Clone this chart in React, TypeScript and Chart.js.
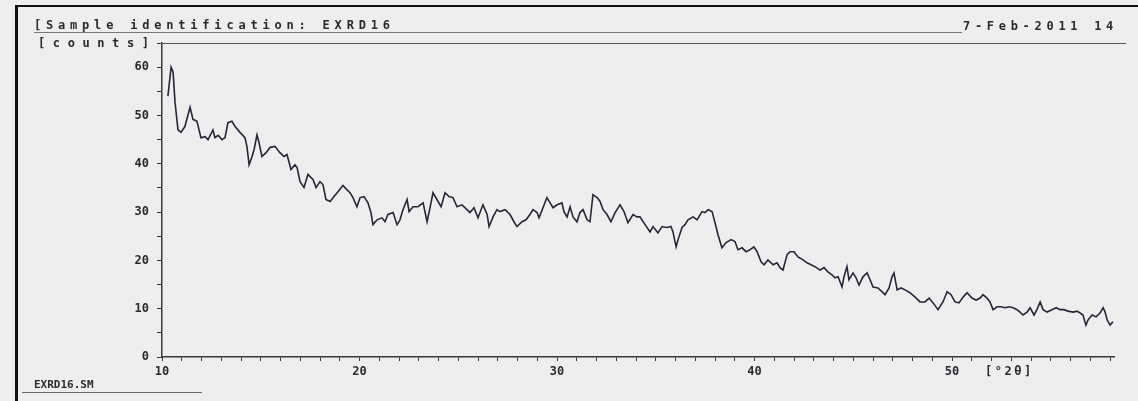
import React, { useEffect, useRef } from "react";
import { Chart, registerables } from "chart.js";

Chart.register(...registerables);

// 2θ positions (degrees)
const twoTheta = [
  10.30, 10.46, 10.56, 10.66, 10.81, 10.96, 11.16, 11.42, 11.57, 11.77, 11.97, 12.18, 12.33, 12.58, 12.68,
  12.84, 13.04, 13.19, 13.34, 13.54, 13.70, 13.95, 14.20, 14.30, 14.41, 14.56, 14.66, 14.81, 14.91, 15.06,
  15.27, 15.47, 15.72, 15.97, 16.18, 16.33, 16.53, 16.73, 16.84, 16.99, 17.19, 17.39, 17.65, 17.80, 18.00,
  18.15, 18.30, 18.51, 18.71, 18.91, 19.16, 19.37, 19.52, 19.67, 19.87, 20.03, 20.23, 20.43, 20.58, 20.68,
  20.89, 21.14, 21.29, 21.44, 21.70, 21.90, 22.05, 22.20, 22.41, 22.51, 22.71, 22.96, 23.22, 23.42, 23.62,
  23.72, 23.92, 24.13, 24.33, 24.53, 24.73, 24.94, 25.19, 25.44, 25.59, 25.80, 26.00, 26.25, 26.46, 26.56,
  26.76, 26.96, 27.11, 27.37, 27.62, 27.82, 27.97, 28.23, 28.43, 28.63, 28.78, 28.99, 29.09, 29.29, 29.49,
  29.65, 29.80, 30.00, 30.25, 30.35, 30.51, 30.66, 30.81, 31.01, 31.16, 31.32, 31.52, 31.67, 31.82, 32.03,
  32.18, 32.33, 32.53, 32.73, 32.94, 33.19, 33.39, 33.59, 33.85, 34.05, 34.20, 34.46, 34.71, 34.86, 35.11,
  35.32, 35.57, 35.77, 35.87, 36.03, 36.13, 36.33, 36.48, 36.63, 36.89, 37.09, 37.34, 37.49, 37.65, 37.85,
  38.00, 38.15, 38.35, 38.56, 38.81, 39.01, 39.16, 39.37, 39.57, 39.77, 39.97, 40.13, 40.33, 40.48, 40.68,
  40.94, 41.14, 41.29, 41.44, 41.65, 41.80, 42.00, 42.20, 42.46, 42.66, 42.86, 43.06, 43.32, 43.52, 43.72,
  43.92, 44.08, 44.23, 44.43, 44.53, 44.68, 44.78, 44.99, 45.14, 45.29, 45.49, 45.70, 45.85, 46.00, 46.25,
  46.61, 46.81, 46.96, 47.06, 47.22, 47.42, 47.62, 47.87, 48.13, 48.38, 48.63, 48.84, 49.04, 49.29, 49.54,
  49.75, 49.95, 50.15, 50.35, 50.56, 50.76, 51.01, 51.22, 51.42, 51.57, 51.77, 51.92, 52.08, 52.28, 52.48,
  52.68, 52.89, 53.09, 53.29, 53.44, 53.59, 53.80, 53.95, 54.15, 54.30, 54.46, 54.61, 54.81, 55.06, 55.27,
  55.47, 55.67, 55.87, 56.13, 56.33, 56.48, 56.63, 56.78, 56.89, 57.09, 57.29, 57.49, 57.65, 57.75, 57.85,
  58.00, 58.15,
];

// intensity (counts) at each 2θ position
const counts = [
  54.0, 60.0, 59.0, 52.7, 47.0, 46.5, 47.7, 51.7, 49.2, 48.8, 45.4, 45.6, 45.0, 47.0, 45.4,
  45.9, 45.0, 45.4, 48.5, 48.8, 47.7, 46.5, 45.4, 43.6, 39.8, 41.5, 42.9, 46.0, 44.4, 41.5,
  42.3, 43.4, 43.6, 42.3, 41.5, 41.9, 38.8, 39.8, 39.2, 36.3, 35.1, 37.8, 36.7, 35.1, 36.3,
  35.7, 32.6, 32.2, 33.2, 34.2, 35.5, 34.6, 34.0, 33.0, 31.1, 33.0, 33.2, 31.9, 29.9, 27.4,
  28.4, 28.8, 28.0, 29.5, 29.9, 27.4, 28.4, 30.5, 32.6, 30.1, 31.1, 31.1, 31.9, 28.0, 31.9,
  34.0, 32.6, 31.1, 34.0, 33.2, 33.0, 31.1, 31.5, 30.5, 29.9, 30.9, 28.8, 31.5, 29.5, 27.0,
  29.0, 30.5, 30.1, 30.5, 29.5, 28.0, 27.0, 28.0, 28.4, 29.5, 30.5, 29.9, 28.8, 30.9, 33.0,
  31.9, 30.9, 31.5, 31.9, 30.1, 29.0, 31.1, 29.0, 28.0, 29.9, 30.5, 28.4, 28.0, 33.6, 33.0,
  32.2, 30.5, 29.5, 28.0, 29.9, 31.5, 30.1, 27.8, 29.5, 29.0, 29.0, 27.4, 25.9, 27.0, 25.7,
  27.0, 26.8, 27.0, 25.9, 22.8, 24.3, 26.8, 27.4, 28.4, 29.0, 28.4, 30.1, 29.9, 30.5, 30.1,
  27.8, 25.3, 22.6, 23.7, 24.3, 23.9, 22.2, 22.6, 21.8, 22.2, 22.8, 21.8, 19.7, 19.1, 20.1,
  19.1, 19.5, 18.5, 18.0, 21.2, 21.8, 21.8, 20.7, 20.1, 19.5, 19.1, 18.7, 18.0, 18.5, 17.6,
  17.0, 16.4, 16.6, 14.5, 16.6, 18.7, 16.0, 17.4, 16.4, 14.9, 16.6, 17.4, 16.0, 14.5, 14.3,
  12.9, 14.3, 16.6, 17.4, 13.9, 14.3, 13.9, 13.3, 12.4, 11.4, 11.4, 12.2, 11.2, 9.8, 11.4,
  13.5, 12.9, 11.4, 11.2, 12.4, 13.3, 12.2, 11.8, 12.2, 12.9, 12.2, 11.4, 9.8, 10.4, 10.4,
  10.2, 10.4, 10.2, 9.8, 9.3, 8.7, 9.3, 10.2, 8.7, 9.8, 11.4, 9.8, 9.3, 9.8, 10.2,
  9.8, 9.8, 9.5, 9.3, 9.5, 9.1, 8.7, 6.6, 7.7, 8.7, 8.3, 9.1, 10.2, 9.3, 7.7,
  6.6, 7.3,
];

const xMajorTicks = [10, 20, 30, 40, 50];
const yMajorTicks = [0, 10, 20, 30, 40, 50, 60];
const xRange = [10, 58.2];
const yRange = [0, 65];

const titleText = "[Sample identification: EXRD16";
const dateText = "7-Feb-2011 14";
const yUnitText = "[counts]";
const xUnitText = "[°2θ]";
const fileText = "EXRD16.SM";

const FONT = '"DejaVu Sans Mono", "Liberation Mono", monospace';
const INK = "#2a2a30";

export default function App() {
  const ref = useRef<HTMLCanvasElement>(null);

  useEffect(() => {
    const points = twoTheta.map((x, i) => ({ x, y: counts[i] }));
    const chart = new Chart(ref.current as HTMLCanvasElement, {
      type: "line",
      data: {
        datasets: [
          {
            data: points,
            borderColor: "#26263a",
            borderWidth: 1.6,
            pointRadius: 0,
            tension: 0,
            fill: false,
          },
        ],
      },
      options: {
        animation: false,
        responsive: false,
        devicePixelRatio: 1,
        layout: { padding: { left: 0, top: 43, right: 24, bottom: 0 } },
        plugins: { legend: { display: false }, tooltip: { enabled: false }, title: { display: false } },
        scales: {
          x: {
            type: "linear",
            min: xRange[0],
            max: xRange[1],
            afterFit: (s: any) => {
              s.height = 44;
            },
            border: { display: true, color: "#3a3a3a", width: 1.5 },
            grid: { drawOnChartArea: false, drawTicks: true, tickLength: 4, color: "#3a3a3a" },
            ticks: {
              stepSize: 1,
              autoSkip: false,
              includeBounds: false,
              maxRotation: 0,
              padding: 4,
              color: INK,
              font: { family: FONT, size: 12, weight: "bold" },
              callback: (v: any) => (xMajorTicks.includes(Number(v)) ? String(v) : ""),
            },
          },
          y: {
            type: "linear",
            min: yRange[0],
            max: yRange[1],
            afterFit: (s: any) => {
              s.width = 162;
            },
            border: { display: true, color: "#3a3a3a", width: 1.5 },
            grid: { drawOnChartArea: false, drawTicks: true, tickLength: 5, color: "#3a3a3a" },
            ticks: {
              stepSize: 5,
              autoSkip: false,
              includeBounds: false,
              padding: 8,
              color: INK,
              font: { family: FONT, size: 12, weight: "bold" },
              callback: (v: any) => (yMajorTicks.includes(Number(v)) ? String(v) : ""),
            },
          },
        },
      },
    });
    return () => chart.destroy();
  }, []);

  const txt = (extra: React.CSSProperties): React.CSSProperties => ({
    position: "absolute",
    fontFamily: FONT,
    fontWeight: "bold",
    fontSize: 12,
    lineHeight: "13px",
    color: INK,
    whiteSpace: "pre",
    ...extra,
  });
  const line = (extra: React.CSSProperties): React.CSSProperties => ({
    position: "absolute",
    ...extra,
  });

  return (
    <div
      style={{
        position: "absolute",
        left: 0,
        top: 0,
        width: 1138,
        height: 401,
        overflow: "hidden",
        background: "#eeeeee",
      }}
    >
      <canvas ref={ref} width={1138} height={401} style={{ position: "absolute", left: 0, top: 0 }} />
      <div style={line({ left: 15, top: 5, width: 3, height: 396, background: "#111" })} />
      <div style={line({ left: 15, top: 5, width: 1123, height: 2, background: "#111" })} />
      <div style={txt({ left: 34, top: 19, letterSpacing: "4.8px" })}>{titleText}</div>
      <div style={line({ left: 34, top: 32, width: 928, height: 1, background: "#777" })} />
      <div style={txt({ left: 963, top: 20, letterSpacing: "4.7px" })}>{dateText}</div>
      <div style={txt({ left: 38, top: 37, letterSpacing: "7.6px" })}>{yUnitText}</div>
      <div style={line({ left: 160, top: 43, width: 966, height: 1, background: "#555" })} />
      <div style={txt({ left: 985, top: 365, letterSpacing: "2.5px" })}>{xUnitText}</div>
      <div style={txt({ left: 34, top: 378, fontSize: 11 })}>{fileText}</div>
      <div style={line({ left: 22, top: 392, width: 180, height: 1, background: "#666" })} />
    </div>
  );
}
